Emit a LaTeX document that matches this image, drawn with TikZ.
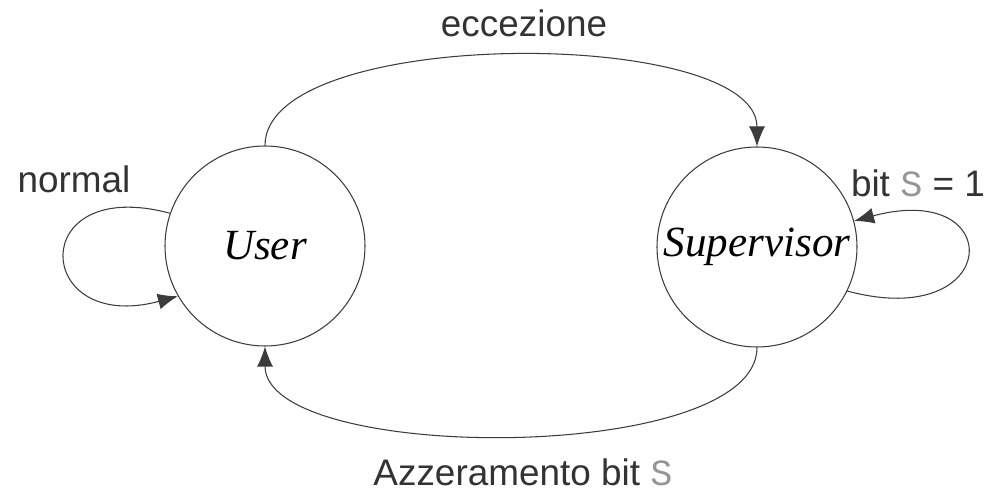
\documentclass[tikz,border=0pt]{standalone}
\usepackage{fontspec}
\setmainfont{Liberation Sans}
\newfontfamily\stateFont{Liberation Serif}
\newfontfamily\bitFont{Liberation Mono}
\usetikzlibrary{positioning}
\usetikzlibrary{arrows.meta}
\definecolor{lineGray}{RGB}{60,60,60}
\definecolor{bitGray}{RGB}{150,150,150}
\newcommand{\bitS}{{\bitFont\color{bitGray}S}}
\tikzset{stateStyle/.style={circle, draw=lineGray, line width=0.6pt, inner sep=0pt, minimum size=4.0cm, font=\stateFont\itshape\fontsize{24.5}{28}\selectfont}}
\tikzset{lblStyle/.style={inner sep=0pt, text=black!80, font=\fontsize{21}{25}\selectfont}}
\tikzset{post/.style={-{Latex[length=4mm,width=3.2mm]}, draw=lineGray, line width=0.6pt}}

\begin{document}
\begin{tikzpicture}
  \useasboundingbox (0,0) rectangle (19.74,9.82);
  % nodes
  \node at (5.30, 4.90) [stateStyle] (user) {User};
  \node at (15.14, 4.88) [stateStyle] (supervisor) {Supervisor};
  \node at (10.48, 9.35) [lblStyle] (eccezione) {eccezione};
  \node at (1.48, 6.24) [lblStyle] (normal) {normal};
  \node at (18.36, 6.16) [lblStyle] (bitset) {bit \bitS{} = 1};
  \node at (10.46, 0.38) [lblStyle] (azzeramento) {Azzeramento bit \bitS};

  % lines
  \draw [post] (user.90) .. controls +(0,2.4) and +(0,2.4) .. (supervisor.90);
  \draw [post] (supervisor.270) .. controls +(0,-2.35) and +(0,-2.35) .. (user.270);
  \draw [post] (user.161) .. controls +(165:3) and +(195:3) .. (user.210);
  \draw [post] (supervisor.-26) .. controls +(-15:3.2) and +(15:3.2) .. (supervisor.15);
\end{tikzpicture}
\end{document}
